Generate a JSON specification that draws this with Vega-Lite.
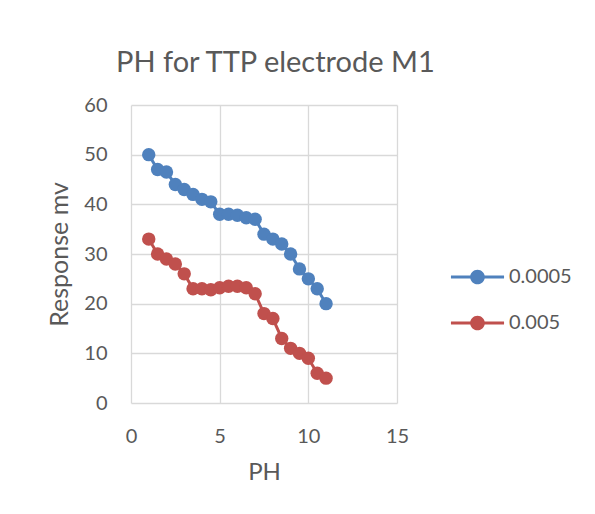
{
  "$schema": "https://vega.github.io/schema/vega-lite/v6.json",
  "width": 266,
  "height": 298,
  "autosize": {"type": "none"},
  "padding": {"left": 131, "top": 105, "right": 198, "bottom": 111},
  "background": "white",
  "title": {
    "text": "PH for TTP electrode M1",
    "anchor": "start",
    "frame": "group",
    "dx": -15,
    "offset": -6,
    "baseline": "alphabetic",
    "font": "Lato",
    "fontSize": 29,
    "fontWeight": "normal",
    "color": "#595959"
  },
  "data": {
    "values": [
      {"ph": 1, "response": 50, "series": "0.0005"},
      {"ph": 1.5, "response": 47, "series": "0.0005"},
      {"ph": 2, "response": 46.5, "series": "0.0005"},
      {"ph": 2.5, "response": 44, "series": "0.0005"},
      {"ph": 3, "response": 43, "series": "0.0005"},
      {"ph": 3.5, "response": 42, "series": "0.0005"},
      {"ph": 4, "response": 41, "series": "0.0005"},
      {"ph": 4.5, "response": 40.5, "series": "0.0005"},
      {"ph": 5, "response": 38, "series": "0.0005"},
      {"ph": 5.5, "response": 38, "series": "0.0005"},
      {"ph": 6, "response": 37.8, "series": "0.0005"},
      {"ph": 6.5, "response": 37.3, "series": "0.0005"},
      {"ph": 7, "response": 37, "series": "0.0005"},
      {"ph": 7.5, "response": 34, "series": "0.0005"},
      {"ph": 8, "response": 33, "series": "0.0005"},
      {"ph": 8.5, "response": 32, "series": "0.0005"},
      {"ph": 9, "response": 30, "series": "0.0005"},
      {"ph": 9.5, "response": 27, "series": "0.0005"},
      {"ph": 10, "response": 25, "series": "0.0005"},
      {"ph": 10.5, "response": 23, "series": "0.0005"},
      {"ph": 11, "response": 20, "series": "0.0005"},
      {"ph": 1, "response": 33, "series": "0.005"},
      {"ph": 1.5, "response": 30, "series": "0.005"},
      {"ph": 2, "response": 29, "series": "0.005"},
      {"ph": 2.5, "response": 28, "series": "0.005"},
      {"ph": 3, "response": 26, "series": "0.005"},
      {"ph": 3.5, "response": 23, "series": "0.005"},
      {"ph": 4, "response": 23, "series": "0.005"},
      {"ph": 4.5, "response": 22.8, "series": "0.005"},
      {"ph": 5, "response": 23.2, "series": "0.005"},
      {"ph": 5.5, "response": 23.5, "series": "0.005"},
      {"ph": 6, "response": 23.5, "series": "0.005"},
      {"ph": 6.5, "response": 23.2, "series": "0.005"},
      {"ph": 7, "response": 22, "series": "0.005"},
      {"ph": 7.5, "response": 18, "series": "0.005"},
      {"ph": 8, "response": 17, "series": "0.005"},
      {"ph": 8.5, "response": 13, "series": "0.005"},
      {"ph": 9, "response": 11, "series": "0.005"},
      {"ph": 9.5, "response": 10, "series": "0.005"},
      {"ph": 10, "response": 9, "series": "0.005"},
      {"ph": 10.5, "response": 6, "series": "0.005"},
      {"ph": 11, "response": 5, "series": "0.005"}
    ]
  },
  "mark": {
    "type": "line",
    "strokeWidth": 3,
    "point": {"size": 180, "filled": true, "opacity": 1}
  },
  "encoding": {
    "x": {
      "field": "ph",
      "type": "quantitative",
      "title": "PH",
      "scale": {"domain": [0, 15], "nice": false},
      "axis": {"values": [0, 5, 10, 15], "labelFlush": false, "labelPadding": 23, "titlePadding": 14}
    },
    "y": {
      "field": "response",
      "type": "quantitative",
      "title": "Response mv",
      "scale": {"domain": [0, 60], "nice": false},
      "axis": {"values": [0, 10, 20, 30, 40, 50, 60], "labelPadding": 24, "titlePadding": 11, "titleFontSize": 25}
    },
    "color": {
      "field": "series",
      "type": "nominal",
      "title": null,
      "scale": {"domain": ["0.0005", "0.005"], "range": ["#4F81BD", "#C0504D"]},
      "legend": {
        "orient": "none",
        "legendX": 331.5,
        "legendY": 157,
        "padding": 0,
        "symbolType": "M-1.77,-0.1H-0.45V0.1H-1.77Z M0.45,-0.1H1.77V0.1H0.45Z M-0.49,0A0.49,0.49 0 1,1 0.49,0A0.49,0.49 0 1,1 -0.49,0Z",
        "symbolSize": 900,
        "symbolStrokeWidth": 0,
        "symbolOpacity": 1,
        "labelFont": "Lato",
        "labelFontSize": 20,
        "labelColor": "#595959",
        "rowPadding": 21,
        "labelOffset": 16.5
      }
    }
  },
  "config": {
    "view": {"stroke": null},
    "axis": {
      "grid": true,
      "gridColor": "#D9D9D9",
      "gridWidth": 1.3,
      "domain": false,
      "ticks": false,
      "labelFont": "Lato",
      "labelFontSize": 20,
      "labelColor": "#595959",
      "titleFont": "Lato",
      "titleFontSize": 24,
      "titleFontWeight": "normal",
      "titleColor": "#595959"
    }
  }
}
